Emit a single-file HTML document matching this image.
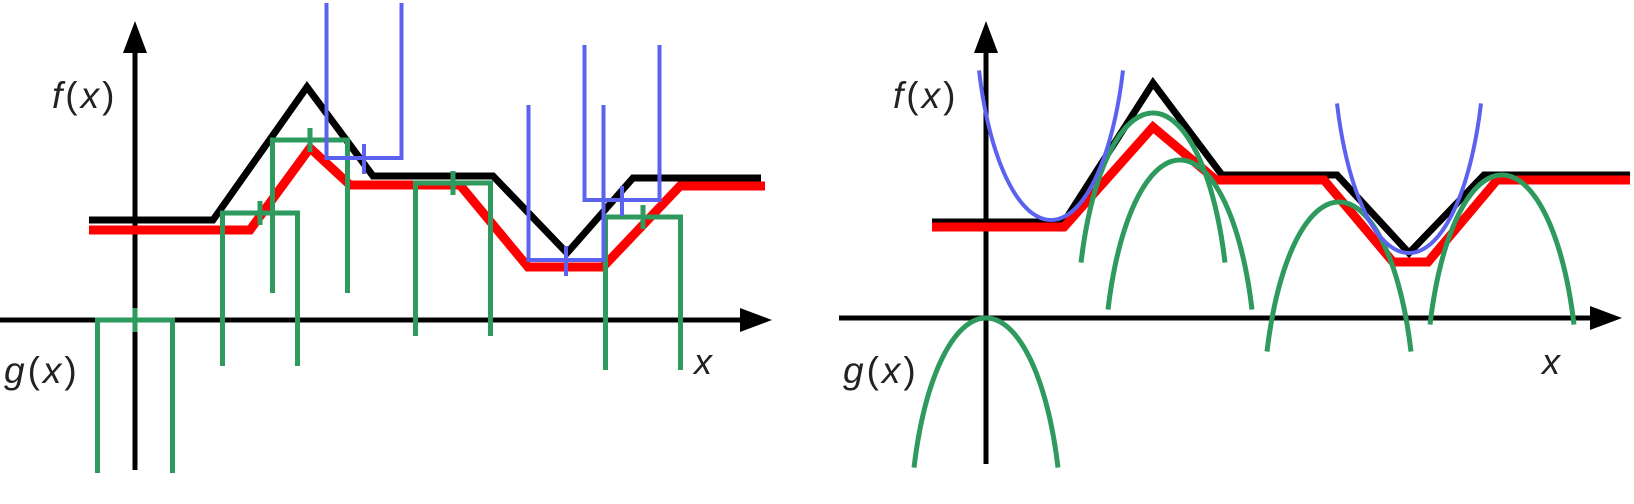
<!DOCTYPE html>
<html><head><meta charset="utf-8"><style>
html,body{margin:0;padding:0;background:#fff;width:1634px;height:504px;overflow:hidden}
svg text{font-family:"Liberation Sans",sans-serif;fill:#222}
</style></head><body>
<svg id="c" width="1634" height="504" viewBox="0 0 1634 504" xmlns="http://www.w3.org/2000/svg">
<g id="left"></g>
<g id="right"></g>
</svg>
<script>
// ---- left panel data (units) ----
const leftFx = [-4.6, 7.8, 17.2, 23.8, 35.8, 43.2, 49.8, 62.6];
const leftFy = [10, 10, 23.3, 14.4, 14.4, 6.7, 14.2, 14.2];
const leftRx = [-4.6, 11.5, 17.5, 21.5, 32.5, 39.3, 46.8, 54.5, 63];
const leftRy = [9, 9, 17.2, 13.5, 13.5, 5.3, 5.3, 13.4, 13.4];
const leftGreenX = [0, 12.5, 17.5, 31.8, 50.8];
const leftGreenTop = [0, 10.7, 18, 13.7, 10.3];
const leftBlueX = [22.9, 43.1, 48.7];
const leftBlueBottom = [16.2, 6, 12];
// ---- right panel data ----
const rightFx = [-5.4, 7.8, 16.7, 23.6, 35.1, 42.3, 49.8, 64.4];
const rightFy = [9.6, 9.6, 23.5, 14.3, 14.3, 6.5, 14.3, 14.3];
const rightRx = [-5.4, 7.8, 16.7, 23, 33.8, 40.7, 44.2, 51.1, 64.4];
const rightRy = [9.1, 9.1, 19.1, 13.8, 13.8, 5.6, 5.6, 13.8, 13.8];
const rightGreenX = [0, 16.7, 19.4, 35.3, 51.6];
const rightGreenY = [0, 20.5, 15.8, 11.6, 14.3];
const rightBlueX = [6.5, 42.3];
const rightBlueY = [9.8, 6.5];

const NS = "http://www.w3.org/2000/svg";
function mk(parent, tag, attrs){const e=document.createElementNS(NS,tag);for(const k in attrs)e.setAttribute(k,attrs[k]);parent.appendChild(e);return e;}

function panel(g, x0, y0, cfg){
  const sx = v => x0 + v*10, sy = v => y0 - v*10;
  let e = mk(g,'line',{x1:cfg.axL,y1:y0,x2:cfg.axR-26,y2:y0,stroke:'#000','stroke-width':5});
   
  e = mk(g,'polygon',{points:`${cfg.axR},${y0} ${cfg.axR-32},${y0-12} ${cfg.axR-32},${y0+12}`,fill:'#000'});
   
  e = mk(g,'line',{x1:x0,y1:cfg.ayB,x2:x0,y2:50,stroke:'#000','stroke-width':5});
   
  e = mk(g,'polygon',{points:`${x0},21 ${x0-12},53 ${x0+12},53`,fill:'#000'});
   
  const fp = cfg.fx.map((v,i)=>sx(v)+','+sy(cfg.fy[i])).join(' ');
  const rp = cfg.rx.map((v,i)=>sx(v)+','+sy(cfg.ry[i])).join(' ');
  e = mk(g,'polyline',{points:fp,fill:'none',stroke:'#000','stroke-width':7,'stroke-linejoin':'miter'});
   
  e = mk(g,'polyline',{points:rp,fill:'none',stroke:'#f00','stroke-width':9});
   
  e = mk(g,'text',{x:cfg.fLab,y:108,'font-size':37,'letter-spacing':3}); e.innerHTML='<tspan font-style="italic">f</tspan>(<tspan font-style="italic">x</tspan>)';
   
  e = mk(g,'text',{x:cfg.gLab,y:383,'font-size':37,'letter-spacing':3}); e.innerHTML='<tspan font-style="italic">g</tspan>(<tspan font-style="italic">x</tspan>)';
   
  e = mk(g,'text',{x:cfg.xLab,y:374,'font-size':36,'font-style':'italic'}); e.textContent='x';
   
  return {sx,sy};
}

// LEFT
const L = document.getElementById('left');
const ls = panel(L,135,320,{axL:0,axR:772,ayB:470,fx:leftFx,fy:leftFy,rx:leftRx,ry:leftRy,fLab:52,gLab:4,xLab:694});
leftGreenX.forEach((cx,i)=>{
  const l=ls.sx(cx-3.75), r=ls.sx(cx+3.75), t=ls.sy(leftGreenTop[i]), b=ls.sy(leftGreenTop[i]-15.3);
  const p = mk(L,'path',{d:`M${l},${b} V${t} H${r} V${b} M${ls.sx(cx)},${t-12} V${t+12}`,fill:'none',stroke:'#2e9a5e','stroke-width':5});
  
  
});
leftBlueX.forEach((cx,i)=>{
  const l=ls.sx(cx-3.75), r=ls.sx(cx+3.75), b=ls.sy(leftBlueBottom[i]), t=ls.sy(leftBlueBottom[i]+15.5);
  const p = mk(L,'path',{d:`M${l},${t} V${b} H${r} V${t} M${ls.sx(cx)},${b-14} V${b+16}`,fill:'none',stroke:'#5b62f0','stroke-width':4});
  
  
});

// RIGHT
const R = document.getElementById('right');
const rs = panel(R,986,318,{axL:839,axR:1622,ayB:464,fx:rightFx,fy:rightFy,rx:rightRx,ry:rightRy,fLab:893,gLab:843,xLab:1542});
function arch(cx, cy, sign){
  const W=7.6, H=22, pts=[];
  for(let k=-40;k<=40;k++){const dx=7.2*k/40; const d=H*(1-Math.sqrt(1-(dx/W)*(dx/W))); pts.push(rs.sx(cx+dx)+','+rs.sy(cy - sign*d));}
  return pts.join(' ');
}
rightGreenX.forEach((cx,i)=>{
  const p = mk(R,'polyline',{points:arch(cx,rightGreenY[i],1),fill:'none',stroke:'#2e9a5e','stroke-width':5});
  
  
});
rightBlueX.forEach((cx,i)=>{
  const p = mk(R,'polyline',{points:arch(cx,rightBlueY[i],-1),fill:'none',stroke:'#5b62f0','stroke-width':4});
  
  
});
</script>
</body></html>
